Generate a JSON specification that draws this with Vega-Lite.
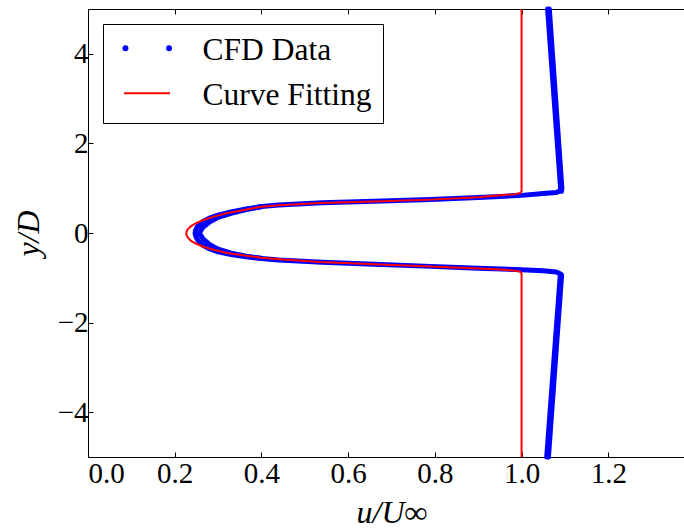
{
  "$schema": "https://vega.github.io/schema/vega-lite/v6.json",
  "width": 607,
  "height": 448,
  "autosize": {"type": "none"},
  "padding": {"left": 88, "top": 9, "right": -11, "bottom": 72},
  "background": "white",
  "config": {
    "view": {"stroke": null},
    "font": "Times New Roman",
    "axis": {
      "grid": false,
      "domainColor": "black",
      "domainWidth": 1,
      "tickColor": "black",
      "tickWidth": 1,
      "tickSize": -5,
      "labelColor": "black",
      "titleColor": "black"
    }
  },
  "data": {
    "values": [
      {"series": "CFD Data", "trace": "a", "i": 0, "u": 1.060, "y": 5.0},
      {"series": "CFD Data", "trace": "a", "i": 1, "u": 1.090, "y": 1.0},
      {"series": "CFD Data", "trace": "a", "i": 2, "u": 1.089, "y": 0.94},
      {"series": "CFD Data", "trace": "a", "i": 3, "u": 1.080, "y": 0.905},
      {"series": "CFD Data", "trace": "a", "i": 4, "u": 1.050, "y": 0.88},
      {"series": "CFD Data", "trace": "a", "i": 5, "u": 1.000, "y": 0.84},
      {"series": "CFD Data", "trace": "a", "i": 6, "u": 0.950, "y": 0.815},
      {"series": "CFD Data", "trace": "a", "i": 7, "u": 0.900, "y": 0.79},
      {"series": "CFD Data", "trace": "a", "i": 8, "u": 0.790, "y": 0.748},
      {"series": "CFD Data", "trace": "a", "i": 9, "u": 0.660, "y": 0.71},
      {"series": "CFD Data", "trace": "a", "i": 10, "u": 0.540, "y": 0.675},
      {"series": "CFD Data", "trace": "a", "i": 11, "u": 0.440, "y": 0.625},
      {"series": "CFD Data", "trace": "a", "i": 12, "u": 0.400, "y": 0.59},
      {"series": "CFD Data", "trace": "a", "i": 13, "u": 0.365, "y": 0.535},
      {"series": "CFD Data", "trace": "a", "i": 14, "u": 0.330, "y": 0.47},
      {"series": "CFD Data", "trace": "a", "i": 15, "u": 0.300, "y": 0.40},
      {"series": "CFD Data", "trace": "a", "i": 16, "u": 0.280, "y": 0.33},
      {"series": "CFD Data", "trace": "a", "i": 17, "u": 0.264, "y": 0.25},
      {"series": "CFD Data", "trace": "a", "i": 18, "u": 0.253, "y": 0.15},
      {"series": "CFD Data", "trace": "a", "i": 19, "u": 0.248, "y": 0.06},
      {"series": "CFD Data", "trace": "a", "i": 20, "u": 0.247, "y": 0.0},
      {"series": "CFD Data", "trace": "a", "i": 21, "u": 0.248, "y": -0.06},
      {"series": "CFD Data", "trace": "a", "i": 22, "u": 0.253, "y": -0.16},
      {"series": "CFD Data", "trace": "a", "i": 23, "u": 0.264, "y": -0.27},
      {"series": "CFD Data", "trace": "a", "i": 24, "u": 0.280, "y": -0.35},
      {"series": "CFD Data", "trace": "a", "i": 25, "u": 0.300, "y": -0.42},
      {"series": "CFD Data", "trace": "a", "i": 26, "u": 0.330, "y": -0.48},
      {"series": "CFD Data", "trace": "a", "i": 27, "u": 0.365, "y": -0.53},
      {"series": "CFD Data", "trace": "a", "i": 28, "u": 0.400, "y": -0.57},
      {"series": "CFD Data", "trace": "a", "i": 29, "u": 0.440, "y": -0.605},
      {"series": "CFD Data", "trace": "a", "i": 30, "u": 0.540, "y": -0.655},
      {"series": "CFD Data", "trace": "a", "i": 31, "u": 0.660, "y": -0.70},
      {"series": "CFD Data", "trace": "a", "i": 32, "u": 0.790, "y": -0.745},
      {"series": "CFD Data", "trace": "a", "i": 33, "u": 0.900, "y": -0.785},
      {"series": "CFD Data", "trace": "a", "i": 34, "u": 1.000, "y": -0.82},
      {"series": "CFD Data", "trace": "a", "i": 35, "u": 1.050, "y": -0.845},
      {"series": "CFD Data", "trace": "a", "i": 36, "u": 1.080, "y": -0.87},
      {"series": "CFD Data", "trace": "a", "i": 37, "u": 1.089, "y": -0.91},
      {"series": "CFD Data", "trace": "a", "i": 38, "u": 1.089, "y": -0.97},
      {"series": "CFD Data", "trace": "a", "i": 39, "u": 1.058, "y": -5.0},
      {"series": "CFD Data", "trace": "b", "i": 0, "u": 0.400, "y": 0.585},
      {"series": "CFD Data", "trace": "b", "i": 1, "u": 0.365, "y": 0.525},
      {"series": "CFD Data", "trace": "b", "i": 2, "u": 0.330, "y": 0.44},
      {"series": "CFD Data", "trace": "b", "i": 3, "u": 0.300, "y": 0.35},
      {"series": "CFD Data", "trace": "b", "i": 4, "u": 0.281, "y": 0.25},
      {"series": "CFD Data", "trace": "b", "i": 5, "u": 0.265, "y": 0.13},
      {"series": "CFD Data", "trace": "b", "i": 6, "u": 0.257, "y": 0.0},
      {"series": "CFD Data", "trace": "b", "i": 7, "u": 0.265, "y": -0.13},
      {"series": "CFD Data", "trace": "b", "i": 8, "u": 0.281, "y": -0.26},
      {"series": "CFD Data", "trace": "b", "i": 9, "u": 0.300, "y": -0.36},
      {"series": "CFD Data", "trace": "b", "i": 10, "u": 0.330, "y": -0.45},
      {"series": "CFD Data", "trace": "b", "i": 11, "u": 0.365, "y": -0.52},
      {"series": "CFD Data", "trace": "b", "i": 12, "u": 0.400, "y": -0.565},
      {"series": "CFD Data", "trace": "c", "i": 0, "u": 1.064, "y": 5.0},
      {"series": "CFD Data", "trace": "c", "i": 1, "u": 1.093, "y": 1.0},
      {"series": "CFD Data", "trace": "c", "i": 2, "u": 1.092, "y": 0.93},
      {"series": "CFD Data", "trace": "d", "i": 0, "u": 1.092, "y": -0.93},
      {"series": "CFD Data", "trace": "d", "i": 1, "u": 1.092, "y": -0.99},
      {"series": "CFD Data", "trace": "d", "i": 2, "u": 1.062, "y": -5.0},
      {"series": "Curve Fitting", "trace": "fit", "i": 0, "u": 1.0, "y": 5.0},
      {"series": "Curve Fitting", "trace": "fit", "i": 1, "u": 1.0, "y": 0.93},
      {"series": "Curve Fitting", "trace": "fit", "i": 2, "u": 0.997, "y": 0.895},
      {"series": "Curve Fitting", "trace": "fit", "i": 3, "u": 0.985, "y": 0.865},
      {"series": "Curve Fitting", "trace": "fit", "i": 4, "u": 0.950, "y": 0.84},
      {"series": "Curve Fitting", "trace": "fit", "i": 5, "u": 0.900, "y": 0.80},
      {"series": "Curve Fitting", "trace": "fit", "i": 6, "u": 0.790, "y": 0.745},
      {"series": "Curve Fitting", "trace": "fit", "i": 7, "u": 0.660, "y": 0.705},
      {"series": "Curve Fitting", "trace": "fit", "i": 8, "u": 0.535, "y": 0.67},
      {"series": "Curve Fitting", "trace": "fit", "i": 9, "u": 0.440, "y": 0.62},
      {"series": "Curve Fitting", "trace": "fit", "i": 10, "u": 0.400, "y": 0.585},
      {"series": "Curve Fitting", "trace": "fit", "i": 11, "u": 0.365, "y": 0.525},
      {"series": "Curve Fitting", "trace": "fit", "i": 12, "u": 0.320, "y": 0.44},
      {"series": "Curve Fitting", "trace": "fit", "i": 13, "u": 0.288, "y": 0.36},
      {"series": "Curve Fitting", "trace": "fit", "i": 14, "u": 0.265, "y": 0.285},
      {"series": "Curve Fitting", "trace": "fit", "i": 15, "u": 0.248, "y": 0.215},
      {"series": "Curve Fitting", "trace": "fit", "i": 16, "u": 0.237, "y": 0.15},
      {"series": "Curve Fitting", "trace": "fit", "i": 17, "u": 0.230, "y": 0.08},
      {"series": "Curve Fitting", "trace": "fit", "i": 18, "u": 0.227, "y": 0.02},
      {"series": "Curve Fitting", "trace": "fit", "i": 19, "u": 0.227, "y": -0.04},
      {"series": "Curve Fitting", "trace": "fit", "i": 20, "u": 0.230, "y": -0.10},
      {"series": "Curve Fitting", "trace": "fit", "i": 21, "u": 0.237, "y": -0.17},
      {"series": "Curve Fitting", "trace": "fit", "i": 22, "u": 0.248, "y": -0.235},
      {"series": "Curve Fitting", "trace": "fit", "i": 23, "u": 0.265, "y": -0.30},
      {"series": "Curve Fitting", "trace": "fit", "i": 24, "u": 0.288, "y": -0.37},
      {"series": "Curve Fitting", "trace": "fit", "i": 25, "u": 0.320, "y": -0.445},
      {"series": "Curve Fitting", "trace": "fit", "i": 26, "u": 0.365, "y": -0.51},
      {"series": "Curve Fitting", "trace": "fit", "i": 27, "u": 0.400, "y": -0.55},
      {"series": "Curve Fitting", "trace": "fit", "i": 28, "u": 0.442, "y": -0.585},
      {"series": "Curve Fitting", "trace": "fit", "i": 29, "u": 0.535, "y": -0.647},
      {"series": "Curve Fitting", "trace": "fit", "i": 30, "u": 0.660, "y": -0.70},
      {"series": "Curve Fitting", "trace": "fit", "i": 31, "u": 0.790, "y": -0.745},
      {"series": "Curve Fitting", "trace": "fit", "i": 32, "u": 0.900, "y": -0.79},
      {"series": "Curve Fitting", "trace": "fit", "i": 33, "u": 0.950, "y": -0.815},
      {"series": "Curve Fitting", "trace": "fit", "i": 34, "u": 0.985, "y": -0.84},
      {"series": "Curve Fitting", "trace": "fit", "i": 35, "u": 0.997, "y": -0.865},
      {"series": "Curve Fitting", "trace": "fit", "i": 36, "u": 1.0, "y": -0.90},
      {"series": "Curve Fitting", "trace": "fit", "i": 37, "u": 1.0, "y": -5.0}
    ]
  },
  "encoding": {
    "y": {
      "field": "y",
      "type": "quantitative",
      "scale": {"domain": [-5, 5], "nice": false, "zero": false},
      "axis": {
        "title": "y/D",
        "values": [-4, -2, 0, 2, 4],
        "format": "d",
        "labelFont": "Times New Roman",
        "labelFontSize": 29,
        "labelPadding": 5,
        "titleFont": "Times New Roman",
        "titleFontStyle": "italic",
        "titleFontWeight": "normal",
        "titleFontSize": 32,
        "titlePadding": 12
      }
    },
    "order": {"field": "i", "type": "quantitative"},
    "detail": {"field": "trace", "type": "nominal"},
    "color": {
      "field": "series",
      "type": "nominal",
      "scale": {"domain": ["CFD Data", "Curve Fitting"], "range": ["#0000ff", "#ff0000"]},
      "legend": {
        "title": null,
        "orient": "none",
        "legendX": 15,
        "legendY": 15,
        "padding": 11,
        "rowPadding": 11.9,
        "cornerRadius": 0,
        "strokeColor": "black",
        "fillColor": "white",
        "symbolSize": 400,
        "labelFont": "Times New Roman",
        "labelFontSize": 31.5,
        "labelColor": "black",
        "labelOffset": 57,
        "labelLimit": 400,
        "encode": {
          "symbols": {
            "update": {
              "shape": [
                {"test": "datum.value === 'CFD Data'", "value": "M-0.63,-0.25A0.2,0.2 0 1,0 -0.23,-0.25A0.2,0.2 0 1,0 -0.63,-0.25ZM3.73,-0.25A0.2,0.2 0 1,0 4.13,-0.25A0.2,0.2 0 1,0 3.73,-0.25Z"},
                {"value": "M-0.57,-0.25H4.03"}
              ],
              "fill": [
                {"test": "datum.value === 'CFD Data'", "value": "#0000ff"},
                {"value": "transparent"}
              ],
              "stroke": [
                {"test": "datum.value === 'CFD Data'", "value": "transparent"},
                {"value": "#ff0000"}
              ],
              "strokeWidth": {"value": 2},
              "opacity": {"value": 1}
            }
          }
        }
      }
    }
  },
  "layer": [
    {
      "transform": [{"filter": "datum.series === 'CFD Data'"}],
      "mark": {"type": "line", "strokeWidth": 5, "strokeCap": "round", "strokeJoin": "round"},
      "encoding": {
        "x": {
          "field": "u",
          "type": "quantitative",
          "scale": {"domain": [0, 1.4], "nice": false, "zero": false},
          "axis": {
            "orient": "bottom",
            "title": "u/U∞",
            "values": [0, 0.2, 0.4, 0.6, 0.8, 1.0, 1.2],
            "format": ".1f",
            "labelFont": "Times New Roman",
            "labelFontSize": 29,
            "labelPadding": 7,
            "titleFont": "Times New Roman",
            "titleFontStyle": "italic",
            "titleFontWeight": "normal",
            "titleFontSize": 32,
            "titlePadding": 9
          }
        }
      }
    },
    {
      "transform": [{"filter": "datum.series === 'Curve Fitting'"}],
      "mark": {"type": "line", "strokeWidth": 2},
      "encoding": {
        "x": {
          "field": "u",
          "type": "quantitative",
          "axis": {
            "orient": "top",
            "title": null,
            "labels": false,
            "values": [0, 0.2, 0.4, 0.6, 0.8, 1.0, 1.2]
          }
        }
      }
    }
  ],
  "resolve": {"axis": {"x": "independent"}}
}
